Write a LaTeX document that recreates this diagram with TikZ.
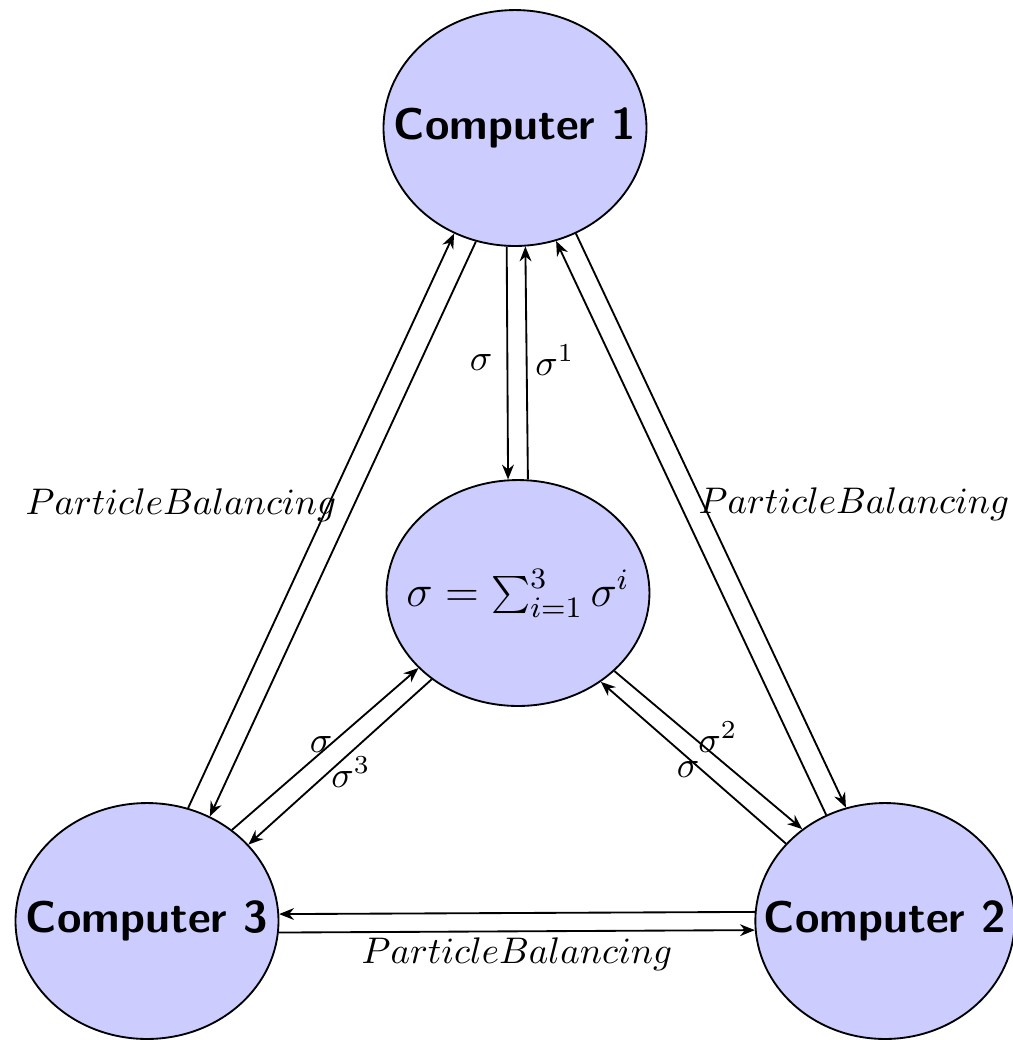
\documentclass[tikz,border=0pt]{standalone}
\usetikzlibrary{shapes.geometric,arrows.meta}
\begin{document}
\begin{tikzpicture}[x=0.27pt,y=-0.27pt,
  machine/.style={ellipse,draw,fill=blue!20,inner sep=0pt,line width=0.5pt,
    minimum width=71pt,minimum height=63.7pt,font=\large\sffamily\bfseries},
  link/.style={-{Stealth[length=4pt,width=3.2pt]},line width=0.5pt},
  lab/.style={inner sep=0pt,anchor=base}]
\useasboundingbox (0,0) rectangle (1013,1040);

% machines and the shared sum (text boxed at zero width so the size is fixed)
\node[machine] (c1) at (515,128) {\makebox[0pt]{Computer 1}};
\node[machine,minimum height=61pt,font=\large] (sum) at (518,593) {\makebox[0pt]{$\sigma = \sum_{i=1}^{3}\sigma^{i}$}};
\node[machine] (c3) at (147,921) {\makebox[0pt]{Computer 3}};
\node[machine,minimum width=70pt] (c2) at (885,921) {\makebox[0pt]{Computer 2}};

% Computer 1 <-> Computer 3
\draw[link] (c3.70.5) -- (c1.240.2);
\draw[link] (c1.251.4) -- (c3.59.2);
% Computer 1 <-> Computer 2
\draw[link] (c1.300.6) -- (c2.109.4);
\draw[link] (c2.119.9) -- (c1.290.6);
% Computer 1 <-> sum
\draw[link] (c1.266.1) -- (sum.95.5);
\draw[link] (sum.85.4) -- (c1.275.6);
% Computer 3 <-> sum
\draw[link] (c3.47.2) -- (sum.217.7);
\draw[link] (sum.225.6) -- (c3.37.4);
% Computer 2 <-> sum
\draw[link] (sum.321.9) -- (c2.132.8);
\draw[link] (c2.142.1) -- (sum.313.4);
% Computer 2 <-> Computer 3
\draw[link] (c2.176) -- (c3.3.9);
\draw[link] (c3.355.7) -- (c2.184.3);

% labels
\node[lab] (s1a) at (481,370) {$\sigma$};
\node[lab] (s1b) at (555,375) {$\sigma^1$};
\node[lab] (s3a) at (321,752) {$\sigma$};
\node[lab] (s3b) at (351,787) {$\sigma^3$};
\node[lab] (s2a) at (718,752) {$\sigma^2$};
\node[lab] (s2b) at (688,777) {$\sigma$};
\node[lab] (pbl) at (181,514) {$Particle Balancing$};
\node[lab] (pbr) at (854,513) {$Particle Balancing$};
\node[lab] (pbb) at (517,963) {$Particle Balancing$};
\end{tikzpicture}
\end{document}
